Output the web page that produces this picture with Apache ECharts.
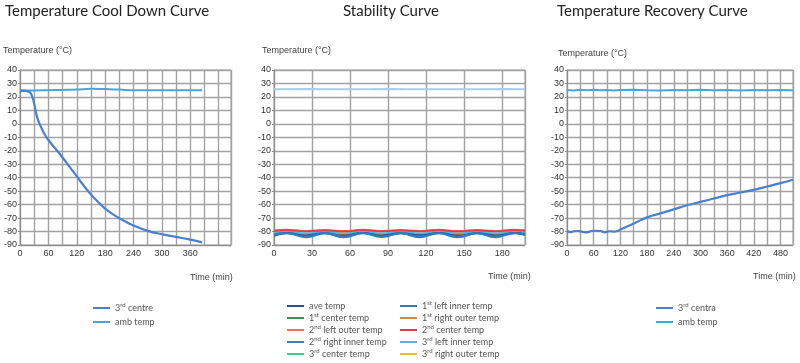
<!DOCTYPE html>
<html>
<head>
<meta charset="utf-8">
<script src="https://cdn.jsdelivr.net/npm/echarts@6/dist/echarts.min.js"></script>
<style>
html,body{margin:0;padding:0;background:#fff;}
#c{width:800px;height:363px;}
</style>
</head>
<body>
<div id="c"></div>
<script>
// ---------- Data ----------
const titles = ['Temperature Cool Down Curve', 'Stability Curve', 'Temperature Recovery Curve'];
const yAxisTitle = 'Temperature (°C)';
const xAxisTitle = 'Time (min)';

// Cool down curve
const coolTime = [0,10,18,22,26,30,34,38,42,50,56,60,75,90,105,120,135,150,165,180,200,220,240,270,300,330,360,385];
const coolCentre = [24.5,24.5,24,23,20,15,8,3,-0.5,-6.5,-10,-12,-18.5,-25,-32,-39,-46,-52.5,-58,-63,-68,-72,-75.5,-79.5,-82,-84,-86,-88];
const coolAmbTime = [0,30,60,90,120,150,180,210,240,300,360,385];
const coolAmb = [25,24.8,25,25.2,25.5,26,25.8,25.5,25,25,25,25];

// Stability curve
const stabTime = [0,10,25,40,55,70,85,100,115,130,145,160,175,190,198];
const aveTemp     = [-82.2,-81.0,-82.8,-81.1,-82.9,-81.0,-82.8,-81.1,-82.7,-81.0,-82.9,-81.1,-82.8,-81.0,-81.9];
const left1Inner  = [-83.3,-81.3,-84.3,-81.4,-84.4,-81.3,-84.2,-81.4,-84.3,-81.3,-84.4,-81.4,-84.3,-81.3,-82.8];
const center1     = [-81.6,-80.8,-82.0,-80.9,-82.1,-80.8,-82.0,-80.9,-82.0,-80.8,-82.1,-80.9,-82.0,-80.8,-81.4];
const right1Outer = [-81.3,-80.6,-81.6,-80.7,-81.7,-80.6,-81.6,-80.7,-81.6,-80.6,-81.7,-80.7,-81.6,-80.6,-81.1];
const left2Outer  = [-79.1,-78.6,-79.4,-78.7,-79.5,-78.6,-79.4,-78.7,-79.4,-78.6,-79.5,-78.7,-79.4,-78.6,-79.0];
const center2     = [-79.5,-79.0,-79.8,-79.1,-79.9,-79.0,-79.8,-79.1,-79.8,-79.0,-79.9,-79.1,-79.8,-79.0,-79.4];
const right2Inner = [-82.8,-81.2,-83.6,-81.3,-83.7,-81.2,-83.6,-81.3,-83.6,-81.2,-83.7,-81.3,-83.6,-81.2,-82.4];
const left3Inner  = [-80.9,-80.3,-81.2,-80.4,-81.3,-80.3,-81.2,-80.4,-81.2,-80.3,-81.3,-80.4,-81.2,-80.3,-80.8];
const center3     = [-81.9,-81.0,-82.4,-81.1,-82.5,-81.0,-82.4,-81.1,-82.4,-81.0,-82.5,-81.1,-82.4,-81.0,-81.7];
const right3Outer = [-81.0,-80.5,-81.3,-80.6,-81.4,-80.5,-81.3,-80.6,-81.3,-80.5,-81.4,-80.6,-81.3,-80.5,-80.9];
const stabAmbTime = [0,30,60,90,120,150,180,198];
const stabAmb = [25.7,25.8,25.7,25.8,25.7,25.7,25.8,25.7];
const stabNames = ['ave temp','1st left inner temp','1st center temp','1st right outer temp','2nd left outer temp','2nd center temp','2nd right inner temp','3rd left inner temp','3rd center temp','3rd right outer temp'];
const stabLegendLeft = ['ave temp','1st center temp','2nd left outer temp','2nd right inner temp','3rd center temp'];
const stabLegendRight = ['1st left inner temp','1st right outer temp','2nd center temp','3rd left inner temp','3rd right outer temp'];

// Recovery curve
const recTime = [0,8,15,25,35,45,55,65,75,85,95,105,112,120,150,180,210,240,270,300,330,360,390,420,450,480,508];
const recCentre = [-79.5,-80.5,-79.8,-79.6,-80.2,-80.6,-79.6,-79.4,-79.6,-80.6,-79.8,-80,-79.8,-78.5,-74,-69.5,-66.5,-63.5,-60.5,-58,-55.5,-53,-51,-49,-46.5,-44,-41.5];
const recAmbTime = [0,15,30,45,60,75,90,105,120,150,180,210,240,270,300,330,360,390,420,450,480,508];
const recAmb = [25.2,24.8,25.3,25.0,25.4,24.9,25.2,24.8,25.1,25.3,25.0,24.8,25.2,25.0,25.3,24.9,25.1,24.8,25.2,24.9,25.1,25.0];

const yMin = -90, yMax = 40, yStep = 10;
const xMax = [446, 198, 508];
const xLabelStep = [60, 30, 60];
const xLabelLast = [360, 180, 480];

// ---------- Styling ----------
const FONT = 'Lato, "Noto Sans", sans-serif';
const stabColors = ['#2a4f9c','#2a7db6','#2a9a58','#e0862a','#e07a5c','#d43f4f','#4a78cf','#58b2e4','#50c08c','#f5b148'];
// drawing order (blue waves drawn last so they sit on top as in the reference)
const drawOrder = [2,8,3,9,7,4,5,0,6,1];
const grids = [
  {left: 20, top: 70, width: 211, height: 175},
  {left: 274, top: 70, width: 251, height: 175},
  {left: 567, top: 70, width: 226, height: 175}
];

function pairs(xs, ys){ return xs.map((x,i)=>[x, ys[i]]); }

function supFormatter(name){
  return name.replace(/^(\d)(st|nd|rd|th)/, '$1{s|$2}');
}
const legendText = {
  fontSize: 9, color: '#555', fontFamily: FONT, lineHeight: 12,
  rich: { s: { fontSize: 6, verticalAlign: 'top', lineHeight: 8, color: '#555', fontFamily: FONT } }
};

const gridLine = {color: '#a2a2a2', width: 1.4};
const xAxes = grids.map((g,i)=>({
  type: 'value', gridIndex: i, min: 0, max: xMax[i], interval: 30,
  axisLine: {show: true, onZero: false, lineStyle: {color: '#8c8c8c', width: 1}},
  axisTick: {show: false},
  splitLine: {show: true, lineStyle: gridLine},
  axisLabel: {
    color: '#333', fontSize: 9, fontFamily: '"Liberation Sans", Arial, sans-serif', margin: 4,
    showMaxLabel: false,
    formatter: v => (v % xLabelStep[i] === 0 && v <= xLabelLast[i]) ? String(v) : ''
  }
}));
const yAxes = grids.map((g,i)=>({
  type: 'value', gridIndex: i, min: yMin, max: yMax, interval: yStep,
  axisLine: {show: true, lineStyle: {color: '#8c8c8c', width: 1}},
  axisTick: {show: true, length: 2, lineStyle: {color: '#8c8c8c'}},
  splitLine: {show: true, lineStyle: gridLine},
  axisLabel: {color: '#333', fontSize: 9, fontFamily: '"Liberation Sans", Arial, sans-serif', margin: 3}
}));

const lineBase = {type: 'line', showSymbol: false, symbol: 'none', smooth: true, animation: false};
const series = [
  Object.assign({}, lineBase, {name: 'amb temp', xAxisIndex: 0, yAxisIndex: 0, color: '#45a7df', lineStyle: {width: 2}, data: pairs(coolAmbTime, coolAmb)}),
  Object.assign({}, lineBase, {name: '3rd centre', xAxisIndex: 0, yAxisIndex: 0, color: '#4a80d2', lineStyle: {width: 2.2}, data: pairs(coolTime, coolCentre)}),
  Object.assign({}, lineBase, {name: 'stab amb', xAxisIndex: 1, yAxisIndex: 1, color: '#a9cfea', lineStyle: {width: 2}, data: pairs(stabAmbTime, stabAmb)})
];
const stabData = [aveTemp,left1Inner,center1,right1Outer,left2Outer,center2,right2Inner,left3Inner,center3,right3Outer];
drawOrder.forEach(k=>{
  series.push(Object.assign({}, lineBase, {name: stabNames[k], xAxisIndex: 1, yAxisIndex: 1, color: stabColors[k], lineStyle: {width: 1.7}, data: pairs(stabTime, stabData[k])}));
});
series.push(Object.assign({}, lineBase, {name: 'amb temp', xAxisIndex: 2, yAxisIndex: 2, color: '#45a7df', lineStyle: {width: 2}, smooth: false, data: pairs(recAmbTime, recAmb)}));
series.push(Object.assign({}, lineBase, {name: '3rd centra', xAxisIndex: 2, yAxisIndex: 2, color: '#4a80d2', lineStyle: {width: 2.2}, data: pairs(recTime, recCentre)}));

function legend(data, left, top, gap){
  return {data: data, orient: 'vertical', left: left, top: top, icon: 'rect', itemWidth: 17, itemHeight: 2,
    itemGap: gap, padding: 0, selectedMode: false, formatter: supFormatter, textStyle: legendText};
}

const titleStyle = {fontSize: 15, fontWeight: 'normal', color: '#222', fontFamily: FONT};
const smallText = {fontSize: 9, fill: '#444', fontFamily: '"Liberation Sans", Arial, sans-serif'};

const option = {
  backgroundColor: '#fff',
  animation: false,
  title: [
    {text: titles[0], left: 5, top: 4, padding: 0, textStyle: titleStyle},
    {text: titles[1], left: 343, top: 4, padding: 0, textStyle: titleStyle},
    {text: titles[2], left: 557, top: 4, padding: 0, textStyle: titleStyle}
  ],
  grid: grids.map(g => Object.assign({show: true, borderColor: '#a0a0a0', borderWidth: 1, backgroundColor: 'transparent'}, g)),
  xAxis: xAxes,
  yAxis: yAxes,
  legend: [
    legend(['3rd centre','amb temp'], 93, 302, 2),
    legend(stabLegendLeft, 287, 300, 0),
    legend(stabLegendRight, 400, 300, 0),
    legend(['3rd centra','amb temp'], 656, 302, 2)
  ],
  graphic: [
    {type: 'text', left: 3, top: 46, style: Object.assign({text: yAxisTitle}, smallText)},
    {type: 'text', left: 262, top: 46, style: Object.assign({text: yAxisTitle}, smallText)},
    {type: 'text', left: 558, top: 49, style: Object.assign({text: yAxisTitle}, smallText)},
    {type: 'text', left: 190, top: 273, style: Object.assign({text: xAxisTitle}, smallText)},
    {type: 'text', left: 488, top: 272, style: Object.assign({text: xAxisTitle}, smallText)},
    {type: 'text', left: 753, top: 272, style: Object.assign({text: xAxisTitle}, smallText)}
  ],
  series: series
};

const chart = echarts.init(document.getElementById('c'), null, {renderer: 'canvas'});
chart.setOption(option);
</script>
</body>
</html>
